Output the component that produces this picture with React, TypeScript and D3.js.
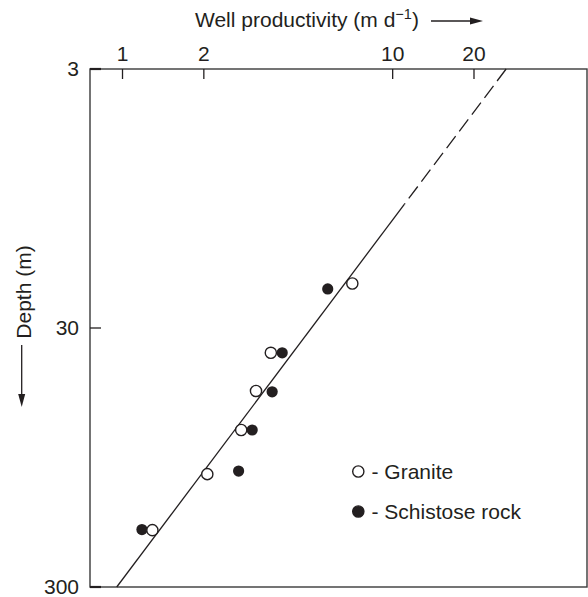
import { useEffect, useRef } from "react";
import * as d3 from "d3";

// well productivity (m/d) vs depth (m)
const graniteQ = [7.09, 3.54, 3.12, 2.75, 2.06, 1.29];
const graniteDepth = [20.2, 37.4, 52.5, 74.3, 110, 181];
const schistQ = [5.75, 3.9, 3.58, 3.02, 2.69, 1.18];
const schistDepth = [21.2, 37.4, 52.9, 74.3, 107, 180];

// fitted line: dashed part (3 -> 10 m), solid part (10 -> 300 m)
const dashedQ = [26.3, 11.04];
const dashedDepth = [3, 10];
const solidQ = [11.04, 0.952];
const solidDepth = [10, 300];

const xTicks = [1, 2, 10, 20];
const yTicks = [3, 30, 300];

const legendItems = ["Granite", "Schistose rock"];

export default function App() {
    const ref = useRef<SVGSVGElement>(null);

    useEffect(() => {
        if (!ref.current) return;
        const svg = d3.select(ref.current);
        svg.selectAll("*").remove();

        const left = 90, right = 587, top = 69, bottom = 587;
        const ink = "#231f20";
        const font = "'Liberation Sans', Arial, Helvetica, sans-serif";
        const fs = 21;

        const x = d3.scaleLog().domain([0.758, 52.4]).range([left, right]);
        const y = d3.scaleLog().domain([3, 300]).range([top, bottom]);

        // frame
        svg.append("rect")
            .attr("x", left).attr("y", top)
            .attr("width", right - left).attr("height", bottom - top)
            .attr("fill", "none").attr("stroke", "#3a3a3a").attr("stroke-width", 1.4);

        // x ticks (top, pointing inward)
        const xt = svg.append("g");
        xt.selectAll("line").data(xTicks).join("line")
            .attr("x1", (d) => x(d)).attr("x2", (d) => x(d))
            .attr("y1", top).attr("y2", top + 10)
            .attr("stroke", ink).attr("stroke-width", 1.3);
        xt.selectAll("text").data(xTicks).join("text")
            .attr("x", (d) => x(d)).attr("y", 61)
            .attr("text-anchor", "middle")
            .attr("font-family", font).attr("font-size", fs).attr("fill", ink)
            .text((d) => d);

        // y ticks (left, pointing inward)
        const yt = svg.append("g");
        yt.selectAll("line").data(yTicks).join("line")
            .attr("x1", left).attr("x2", left + 11)
            .attr("y1", (d) => y(d)).attr("y2", (d) => y(d))
            .attr("stroke", ink).attr("stroke-width", (d) => (d === 30 ? 1.3 : 2.2));
        yt.selectAll("text").data(yTicks).join("text")
            .attr("x", 79).attr("y", (d) => y(d)).attr("dy", "0.35em")
            .attr("text-anchor", "end")
            .attr("font-family", font).attr("font-size", fs).attr("fill", ink)
            .text((d) => d);

        // fitted line
        const line = d3.line<[number, number]>()
            .x((d) => x(d[0]))
            .y((d) => y(d[1]));
        svg.append("path")
            .attr("d", line(dashedQ.map((q, i) => [q, dashedDepth[i]] as [number, number])))
            .attr("fill", "none").attr("stroke", ink).attr("stroke-width", 1.3)
            .attr("stroke-dasharray", "15 6");
        svg.append("path")
            .attr("d", line(solidQ.map((q, i) => [q, solidDepth[i]] as [number, number])))
            .attr("fill", "none").attr("stroke", ink).attr("stroke-width", 1.3);

        // points
        const r = 5.6;
        svg.append("g").selectAll("circle")
            .data(schistQ.map((q, i) => [q, schistDepth[i]]))
            .join("circle")
            .attr("cx", (d) => x(d[0])).attr("cy", (d) => y(d[1])).attr("r", r)
            .attr("fill", ink);
        svg.append("g").selectAll("circle")
            .data(graniteQ.map((q, i) => [q, graniteDepth[i]]))
            .join("circle")
            .attr("cx", (d) => x(d[0])).attr("cy", (d) => y(d[1])).attr("r", r)
            .attr("fill", "white").attr("stroke", ink).attr("stroke-width", 1.4);

        // legend
        const lg = svg.append("g");
        legendItems.forEach((name, i) => {
            const cy = 471.5 + i * 40;
            lg.append("circle")
                .attr("cx", 358.3).attr("cy", cy).attr("r", r)
                .attr("fill", i === 0 ? "white" : ink)
                .attr("stroke", ink).attr("stroke-width", 1.4);
            lg.append("text")
                .attr("x", 371.5).attr("y", cy + 7)
                .attr("font-family", font).attr("font-size", fs).attr("fill", ink)
                .text("- " + name);
        });

        // x title with arrow
        const title = svg.append("text")
            .attr("x", 195).attr("y", 27)
            .attr("font-family", font).attr("font-size", fs).attr("fill", ink);
        title.append("tspan").text("Well productivity (m d");
        title.append("tspan").attr("font-size", 14.5).attr("dy", -8).text("\u22121");
        title.append("tspan").attr("dy", 8).text(")");
        svg.append("line")
            .attr("x1", 431).attr("x2", 472).attr("y1", 21).attr("y2", 21)
            .attr("stroke", ink).attr("stroke-width", 1.3);
        svg.append("path")
            .attr("d", "M483,21 L470,17.5 L470,24.5 Z").attr("fill", ink);

        // y title with arrow
        svg.append("text")
            .attr("transform", "translate(31,292) rotate(-90)")
            .attr("text-anchor", "middle")
            .attr("font-family", font).attr("font-size", fs).attr("fill", ink)
            .text("Depth (m)");
        svg.append("line")
            .attr("x1", 21.7).attr("x2", 21.7).attr("y1", 345).attr("y2", 396)
            .attr("stroke", ink).attr("stroke-width", 1.3);
        svg.append("path")
            .attr("d", "M21.7,407 L18.2,394 L25.2,394 Z").attr("fill", ink);
    }, []);

    return (
        <svg
            ref={ref}
            width={588}
            height={597}
            style={{ position: "absolute", left: 0, top: 0, background: "white" }}
        />
    );
}
